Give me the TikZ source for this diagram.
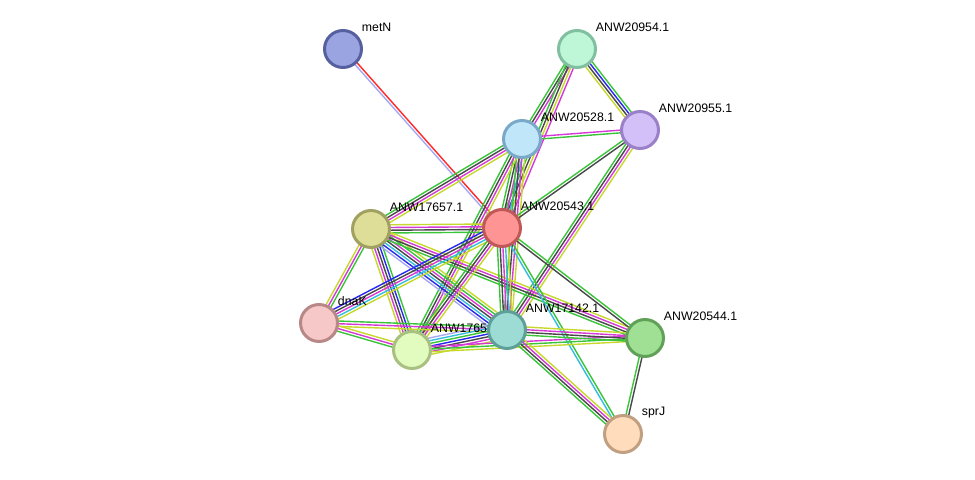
\documentclass[tikz,border=0pt]{standalone}
\usepackage{fontspec}
\setmainfont{Liberation Sans}
\usetikzlibrary{calc}
\pgfdeclarelayer{edges}
\pgfsetlayers{edges,main}

% evidence channels
\definecolor{cnb}{RGB}{58,196,58}
\definecolor{ccx}{RGB}{72,72,72}
\definecolor{cex}{RGB}{214,58,214}
\definecolor{ctm}{RGB}{198,216,44}
\definecolor{cdb}{RGB}{52,190,222}
\definecolor{cco}{RGB}{40,40,238}
\definecolor{cfu}{RGB}{255,40,40}
\definecolor{cho}{RGB}{168,168,242}
% proteins (fill / rim)
\definecolor{fmetN}{RGB}{154,164,224}\definecolor{rmetN}{RGB}{84,96,160}
\definecolor{fa}{RGB}{189,247,216}\definecolor{ra}{RGB}{128,192,160}
\definecolor{fb}{RGB}{212,192,248}\definecolor{rb}{RGB}{154,128,200}
\definecolor{fc}{RGB}{192,230,250}\definecolor{rc}{RGB}{122,168,200}
\definecolor{fd}{RGB}{222,222,152}\definecolor{rd}{RGB}{160,160,96}
\definecolor{fe}{RGB}{255,148,148}\definecolor{re}{RGB}{192,88,88}
\definecolor{ff}{RGB}{246,200,200}\definecolor{rf}{RGB}{184,136,136}
\definecolor{fg}{RGB}{226,252,192}\definecolor{rg}{RGB}{168,192,128}
\definecolor{fh}{RGB}{156,220,212}\definecolor{rh}{RGB}{94,160,152}
\definecolor{fi}{RGB}{160,224,148}\definecolor{ri}{RGB}{96,160,88}
\definecolor{fj}{RGB}{254,220,188}\definecolor{rj}{RGB}{192,160,128}

\tikzset{
  edge/.style={line width=0.8pt},
  nb/.style={edge,draw=cnb}, cx/.style={edge,draw=ccx},
  ex/.style={edge,draw=cex}, tm/.style={edge,draw=ctm},
  db/.style={edge,draw=cdb}, co/.style={edge,draw=cco},
  fu/.style={edge,draw=cfu}, ho/.style={edge,draw=cho},
  prot/.style 2 args={circle,minimum size=0.74cm,inner sep=0pt,
    line width=1.7pt,fill=#1,draw=#2},
  lbl/.style={anchor=west,inner sep=0pt,label distance=0pt,
    xshift=0.09cm,yshift=0.15cm,font=\fontsize{7}{8}\selectfont}
}

% parallel lines, one per evidence channel
\newcommand{\lnk}[3]{%
  \gdef\nl{0}%
  \foreach \col in {#3}{\pgfmathtruncatemacro{\tmp}{\nl+1}\global\let\nl\tmp}%
  \foreach \col [count=\i] in {#3}{%
    \pgfmathsetmacro{\off}{(\i-(\nl+1)/2)*1.55}%
    \draw[\col] ($(#1)!\off pt!90:(#2)$) -- ($(#2)!\off pt!-90:(#1)$);
  }%
}

\begin{document}
\begin{tikzpicture}[x=0.02cm,y=-0.02cm]
  \useasboundingbox (0,0) rectangle (975,480);
  % proteins
  \node[prot={fmetN}{rmetN},label={[lbl]45:metN}] (metN) at (343,49) {};
  \node[prot={fa}{ra},label={[lbl]45:ANW20954.1}] (w20954) at (577,49) {};
  \node[prot={fb}{rb},label={[lbl]45:ANW20955.1}] (w20955) at (640,130) {};
  \node[prot={fc}{rc},label={[lbl]45:ANW20528.1}] (w20528) at (522,139) {};
  \node[prot={fd}{rd},label={[lbl]45:ANW17657.1}] (w17657) at (371,229) {};
  \node[prot={fe}{re},label={[lbl]45:ANW20543.1}] (w20543) at (502,228) {};
  \node[prot={ff}{rf},label={[lbl]45:dnaK}] (dnaK) at (319,323) {};
  \node[prot={fg}{rg},label={[lbl]45:ANW17658.1}] (w17658) at (412,350) {};
  \node[prot={fh}{rh},label={[lbl]45:ANW17142.1}] (w17142) at (507,330) {};
  \node[prot={fi}{ri},label={[lbl]45:ANW20544.1}] (w20544) at (645,338) {};
  \node[prot={fj}{rj},label={[lbl]45:sprJ}] (sprJ) at (623,434) {};
  % interactions
  \begin{pgfonlayer}{edges}
    \lnk{metN}{w20543}{ho,fu}
    \lnk{w20954}{w20528}{nb,cx,ex}
    \lnk{w20954}{w20543}{nb,cx,tm,ex}
    \lnk{w20954}{w20955}{tm,cx,co,nb}
    \lnk{w20528}{w20955}{nb,ex}
    \lnk{w20528}{w17657}{nb,cx,ex,tm}
    \lnk{w20528}{w20543}{nb,cx,ex,db}
    \lnk{w20528}{w17142}{nb,cx,ex,tm}
    \lnk{w20528}{w17658}{nb,cx,ex,tm}
    \lnk{w20955}{w20543}{nb,cx}
    \lnk{w20955}{w17142}{nb,cx,ex,tm}
    \lnk{w17657}{w20543}{nb,cx,ex,tm}
    \lnk{w17657}{dnaK}{tm,ex,nb}
    \lnk{w17657}{w17658}{tm,ex,cx,co,nb}
    \lnk{w17657}{w17142}{ho,co,db,cx,ex,nb,tm}
    \lnk{w17657}{w20544}{nb,cx,ex,tm}
    \lnk{w20543}{dnaK}{co,cx,ex,db,tm}
    \lnk{w20543}{w17658}{nb,cx,ex,tm}
    \lnk{w20543}{w17142}{nb,cx,ex,db,tm}
    \lnk{w20543}{w20544}{cx,nb}
    \lnk{w20543}{sprJ}{db,nb}
    \lnk{dnaK}{w17658}{nb,ex,tm}
    \lnk{dnaK}{w17142}{tm,ex,nb}
    \lnk{w17658}{w17142}{tm,ex,cx,co,nb,db,ho}
    \lnk{w17658}{w20544}{tm,nb,ex}
    \lnk{w17142}{w20544}{nb,cx,ex,tm}
    \lnk{w17142}{sprJ}{nb,cx,ex,tm}
    \lnk{w20544}{sprJ}{nb,cx}
  \end{pgfonlayer}
\end{tikzpicture}
\end{document}
